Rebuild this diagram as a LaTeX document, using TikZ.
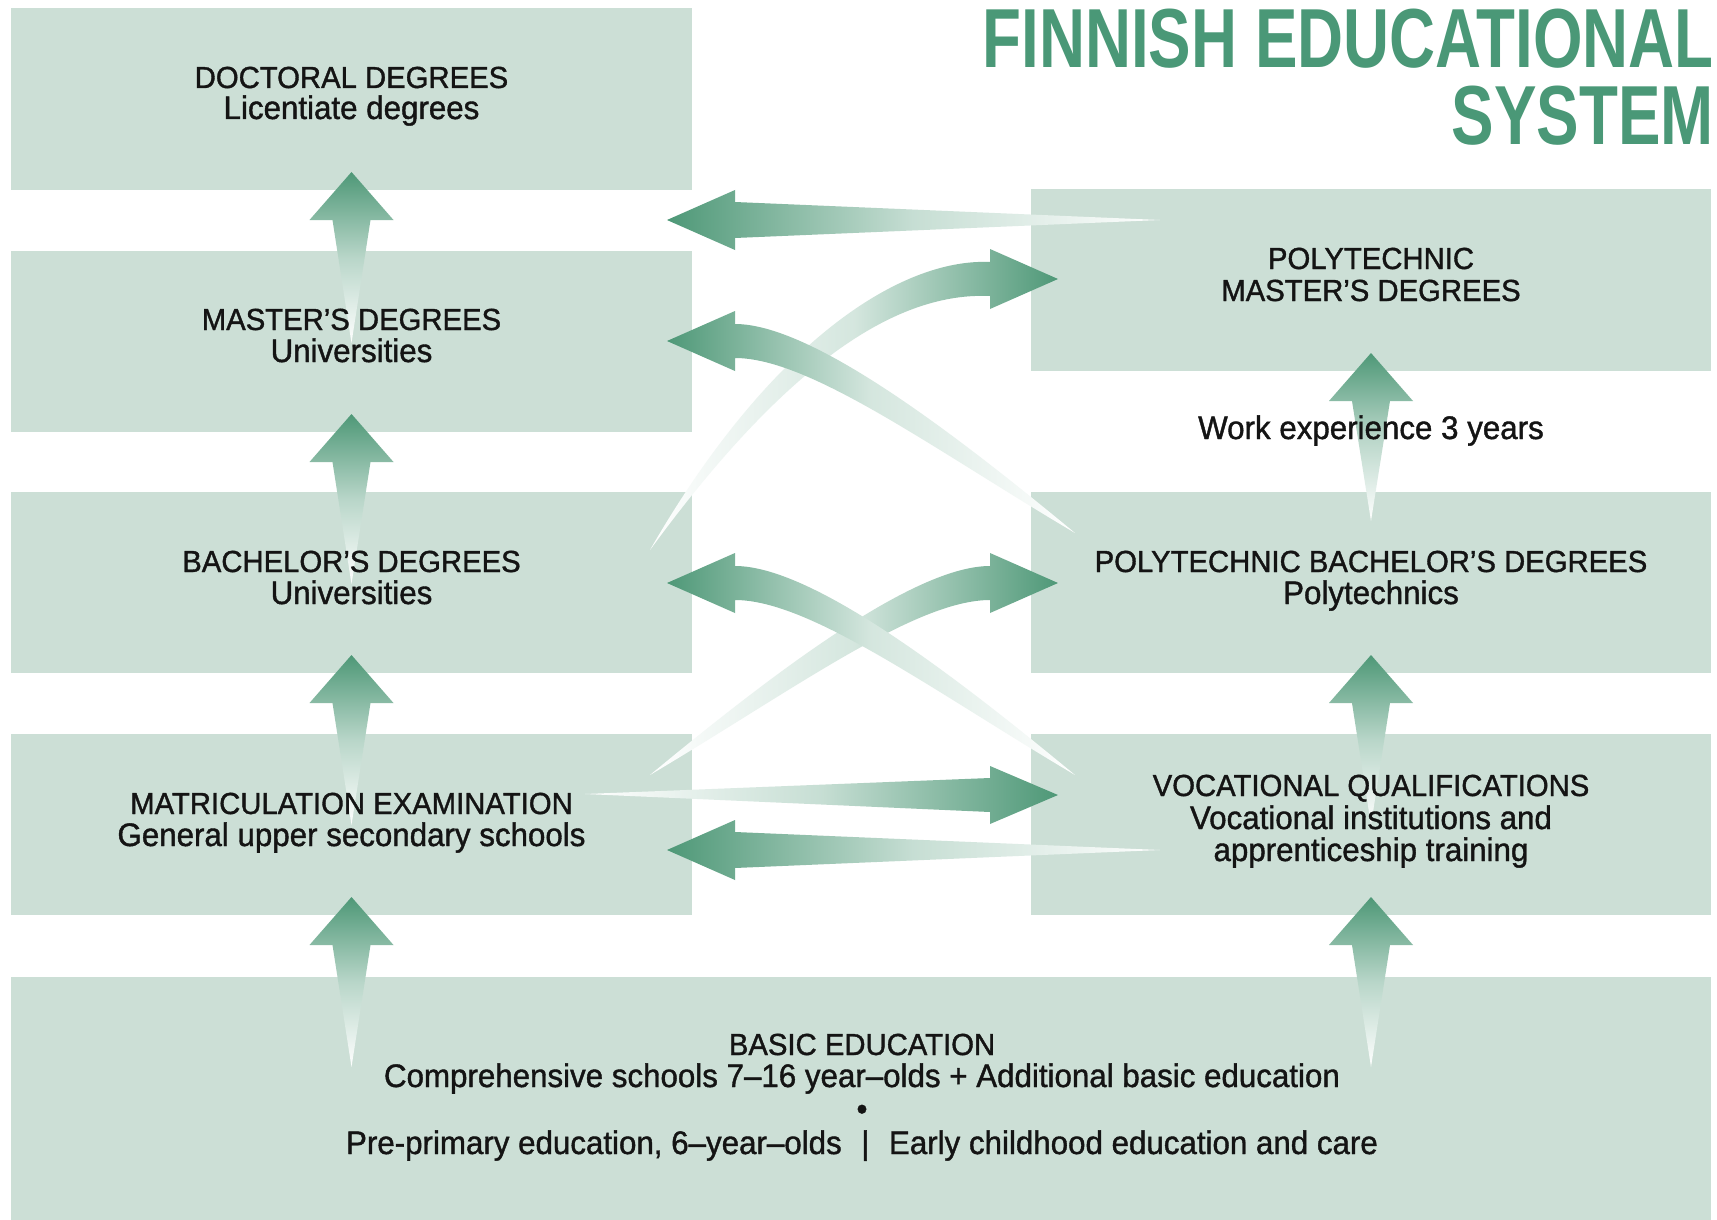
\documentclass[tikz,border=0pt]{standalone}
\usepackage{fontspec}
\setmainfont{Liberation Sans}[FakeBold=1.2, FakeStretch=0.96]
\newfontfamily\titlefont{Liberation Sans}
\usepackage{graphicx}
\usetikzlibrary{calc}
\definecolor{agreen}{HTML}{4E9877}
\definecolor{boxc}{HTML}{CCDFD6}
\definecolor{titleg}{HTML}{4A9877}
% vertical gradient arrow: #1 tip, #2 tail
\newcommand{\uparr}[2]{\shade[top color=agreen, bottom color=white, middle color=agreen!40]
  (#1) -- ($(#1)+(42,48)$) -- ($(#1)+(19,48)$) -- (#2) -- ($(#1)+(-19,48)$) -- ($(#1)+(-42,48)$) -- cycle;}
% straight horizontal arrows
\newcommand{\leftarr}[2]{\shade[left color=agreen, right color=white, middle color=agreen!32]
  (#1) -- ($(#1)+(68,-30)$) -- ($(#1)+(68,-18)$) -- (#2) -- ($(#1)+(68,18)$) -- ($(#1)+(68,30)$) -- cycle;}
\newcommand{\rightarr}[2]{\shade[left color=white, right color=agreen, middle color=agreen!32]
  (#1) -- ($(#1)+(-68,-29)$) -- ($(#1)+(-68,-17)$) -- (#2) -- ($(#1)+(-68,17)$) -- ($(#1)+(-68,29)$) -- cycle;}
% curved arrows
\newcommand{\curvleft}[2]{\shade[left color=agreen, right color=white, middle color=agreen!24]
  (#1) -- ($(#1)+(68,-30)$) -- ($(#1)+(68,-17)$)
  .. controls ($(#1)+(143,-17)$) and ($(#1)+(280.5,86.4)$) .. (#2)
  .. controls ($(#1)+(265.5,107.6)$) and ($(#1)+(143,17)$) .. ($(#1)+(68,17)$)
  -- ($(#1)+(68,30)$) -- cycle;}
\newcommand{\curvright}[2]{\shade[left color=white, right color=agreen, middle color=agreen!24]
  (#1) -- ($(#1)+(-68,-30)$) -- ($(#1)+(-68,-17)$)
  .. controls ($(#1)+(-143,-17)$) and ($(#1)+(-280.5,86.4)$) .. (#2)
  .. controls ($(#1)+(-265.5,107.6)$) and ($(#1)+(-143,17)$) .. ($(#1)+(-68,17)$)
  -- ($(#1)+(-68,30)$) -- cycle;}
\begin{document}
\begin{tikzpicture}[x=1pt,y=-1pt,
  box/.style={rectangle, fill=boxc, draw=none, inner sep=0pt, outer sep=0pt},
  lbox/.style={box, minimum width=681pt, minimum height=181pt},
  rbox/.style={box, minimum width=680pt, minimum height=181pt},
  hd/.style={anchor=base, inner sep=0pt, text=black!92, font=\fontsize{30.5}{33}\selectfont},
  sb/.style={anchor=base, inner sep=0pt, text=black!92, font=\fontsize{32.6}{35}\selectfont},
  ttl/.style={anchor=base east, inner sep=0pt, text=titleg, font=\titlefont\fontsize{83.8}{90}\selectfont\bfseries}]
\fill[white] (0,0) rectangle (1717,1220);
\useasboundingbox (0,0) rectangle (1717,1220);

% boxes
\node[lbox, minimum height=182pt] (doc) at (351.5,99) {};
\node[lbox] (mas) at (351.5,341.5) {};
\node[lbox] (bac) at (351.5,582.5) {};
\node[lbox] (mat) at (351.5,824.5) {};
\node[rbox, minimum height=182pt] (pm) at (1371,280) {};
\node[rbox] (pb) at (1371,582.5) {};
\node[rbox] (voc) at (1371,824.5) {};
\node[box, minimum width=1700pt, minimum height=243pt] (bas) at (861,1098.5) {};

% title
\node[ttl] (t1) at (1714,68) {\scalebox{0.76}[1]{FINNISH EDUCATIONAL}};
\node[ttl] (t2) at (1714,145) {\scalebox{0.76}[1]{SYSTEM}};

% arrow end points
\coordinate (a1t) at ($(doc.south)+(0,-18)$); \coordinate (a1e) at ($(a1t)+(0,171)$);
\coordinate (a2t) at ($(mas.south)+(0,-18)$); \coordinate (a2e) at ($(a2t)+(0,170)$);
\coordinate (a3t) at ($(bac.south)+(0,-18)$); \coordinate (a3e) at ($(a3t)+(0,170)$);
\coordinate (a4t) at ($(mat.south)+(0,-18)$); \coordinate (a4e) at ($(a4t)+(0,170)$);
\coordinate (a5t) at ($(pm.south)+(0,-18)$);  \coordinate (a5e) at ($(a5t)+(0,168)$);
\coordinate (a6t) at ($(pb.south)+(0,-18)$);  \coordinate (a6e) at ($(a6t)+(0,170)$);
\coordinate (a7t) at ($(voc.south)+(0,-18)$); \coordinate (a7e) at ($(a7t)+(0,170)$);
\coordinate (h1t) at ($(doc.south east)+(-25,30)$); \coordinate (h1e) at ($(pm.north west)+(129,31)$);
\coordinate (h2t) at ($(voc.west)+(27,-29.5)$);     \coordinate (h2e) at ($(mat.east)+(-107,-30.5)$);
\coordinate (h3t) at ($(mat.east)+(-25,25.5)$);     \coordinate (h3e) at ($(voc.west)+(129,25.5)$);
\coordinate (c1t) at ($(pm.west)+(27,-1)$);   \coordinate (c1e) at ($(bac.north east)+(-42,58)$);
\coordinate (c2t) at ($(mas.east)+(-25,-0.5)$); \coordinate (c2e) at ($(pb.north west)+(44,41)$);
\coordinate (c3t) at ($(pb.west)+(27,0.5)$);  \coordinate (c3e) at ($(mat.north east)+(-42,41)$);
\coordinate (c4t) at ($(bac.east)+(-25,0.5)$); \coordinate (c4e) at ($(voc.north west)+(44,41)$);

% vertical arrows
\uparr{a1t}{a1e} \uparr{a2t}{a2e} \uparr{a3t}{a3e} \uparr{a4t}{a4e}
\uparr{a5t}{a5e} \uparr{a6t}{a6e} \uparr{a7t}{a7e}
% horizontal arrows
\leftarr{h1t}{h1e}
\rightarr{h2t}{h2e}
\leftarr{h3t}{h3e}
% curved crossing arrows
\shade[left color=white, right color=agreen, middle color=agreen!24]
  (c1t) -- ($(c1t)+(-68,-30)$) -- ($(c1t)+(-68,-17)$)
  .. controls ($(c1t)+(-158,-21)$) and ($(c1t)+(-288.9,63.9)$) .. (c1e)
  .. controls ($(c1t)+(-267.1,78.1)$) and ($(c1t)+(-158,13)$) .. ($(c1t)+(-68,17)$)
  -- ($(c1t)+(-68,30)$) -- cycle;
\curvleft{c2t}{c2e}
\curvright{c3t}{c3e}
\curvleft{c4t}{c4e}

% texts
\node[hd] (docA) at (351.5,88) {DOCTORAL DEGREES};
\node[sb] (docB) at (351.5,119) {Licentiate degrees};
\node[hd] (masA) at (351.5,330) {MASTER’S DEGREES};
\node[sb] (masB) at (351.5,362) {Universities};
\node[hd] (bacA) at (351.5,572) {BACHELOR’S DEGREES};
\node[sb] (bacB) at (351.5,604) {Universities};
\node[hd] (matA) at (351.5,814) {MATRICULATION EXAMINATION};
\node[sb] (matB) at (351.5,846) {General upper secondary schools};
\node[hd] (pmA) at (1371,269) {POLYTECHNIC};
\node[hd] (pmB) at (1371,301) {MASTER’S DEGREES};
\node[sb] (work) at (1371,439) {Work experience 3 years};
\node[hd] (pbA) at (1371,572) {POLYTECHNIC BACHELOR’S DEGREES};
\node[sb] (pbB) at (1371,604) {Polytechnics};
\node[hd] (vocA) at (1371,796) {VOCATIONAL QUALIFICATIONS};
\node[sb] (vocB) at (1371,829) {Vocational institutions and};
\node[sb] (vocC) at (1371,861) {apprenticeship training};
\node[hd] (basA) at (862,1055) {BASIC EDUCATION};
\node[sb] (basB) at (862,1087) {Comprehensive schools 7–16 year–olds + Additional basic education};
\node[sb] (basC) at (862,1120) {•};
\node[sb] (basD) at (862,1154) {Pre-primary education, 6–year–olds\hspace{0.6em}|\hspace{0.6em}Early childhood education and care};
\end{tikzpicture}
\end{document}
